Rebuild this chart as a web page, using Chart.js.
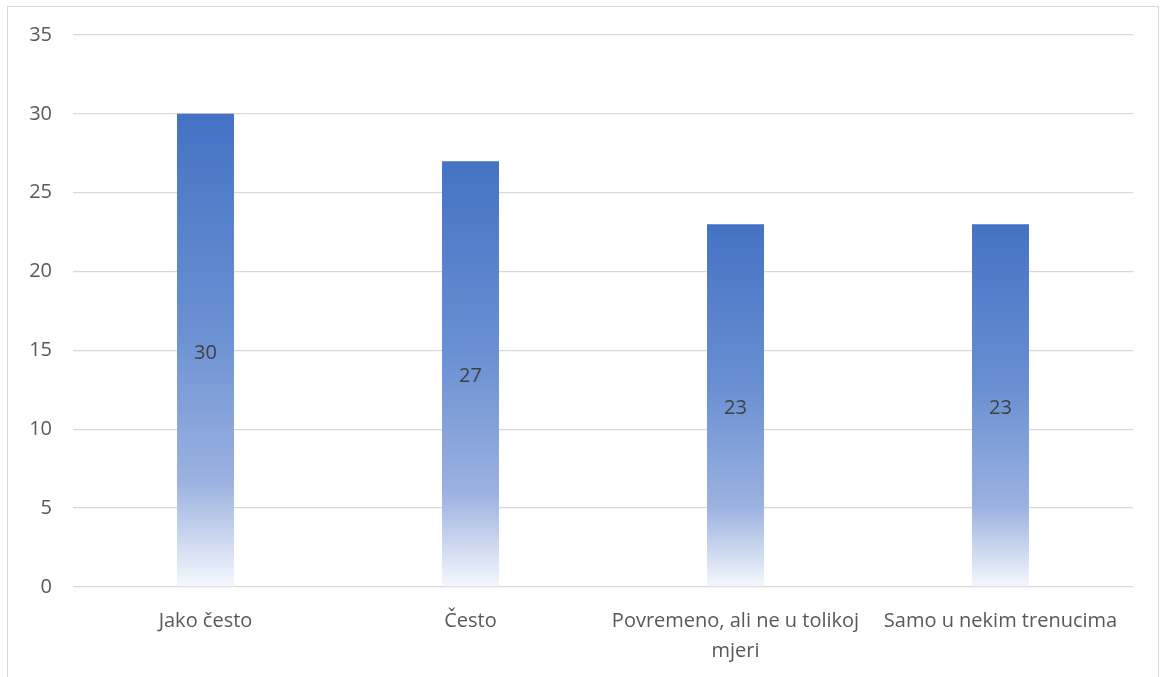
<!DOCTYPE html>
<html>
<head>
<meta charset="utf-8">
<script src="https://cdn.jsdelivr.net/npm/chart.js@4"></script>
<style>
  body { margin: 0; background: #fff; }
  #frame { position: absolute; left: 7px; top: 6px; width: 1150px; height: 680px; border: 1px solid #d9d9d9; }
  #wrap { position: absolute; left: 0; top: 0; width: 1160px; height: 677px; }
</style>
</head>
<body>
<div id="frame"></div>
<div id="wrap"><canvas id="myChart" width="1160" height="677"></canvas></div>
<script>
// Chart data
const categories = ['Jako često', 'Često', ['Povremeno, ali ne u tolikoj', 'mjeri'], 'Samo u nekim trenucima'];
const values = [30, 27, 23, 23];
const yTicks = [0, 5, 10, 15, 20, 25, 30, 35];

// Gradient per bar, dark blue on top fading to white at the base
function barGradient(ctx) {
    const chart = ctx.chart;
    if (!chart.chartArea || ctx.raw === undefined) return '#4472C4';
    const y = chart.scales.y;
    const top = y.getPixelForValue(ctx.raw);
    const bottom = y.getPixelForValue(0);
    const g = chart.ctx.createLinearGradient(0, top, 0, bottom);
    g.addColorStop(0, '#4472C4');
    g.addColorStop(0.45, '#6990D2');
    g.addColorStop(0.78, '#9CB2E0');
    g.addColorStop(1, '#F5F8FD');
    return g;
}

// Value labels in the middle of each bar
const centerLabels = {
    id: 'centerLabels',
    afterDatasetsDraw(chart) {
        const c = chart.ctx;
        const meta = chart.getDatasetMeta(0);
        c.save();
        c.font = '20px "Open Sans"';
        c.fillStyle = '#404040';
        c.textAlign = 'center';
        c.textBaseline = 'middle';
        meta.data.forEach((bar, i) => {
            c.fillText(values[i], bar.x, (bar.y + bar.base) / 2 + 3);
        });
        c.restore();
    }
};

const ctx = document.getElementById('myChart').getContext('2d');
const myChart = new Chart(ctx, {
    type: 'bar',
    data: {
        labels: categories,
        datasets: [{
            data: values,
            backgroundColor: barGradient,
            borderWidth: 0,
            categoryPercentage: 1,
            barPercentage: 0.215
        }]
    },
    options: {
        responsive: false,
        animation: false,
        layout: { padding: { top: 35, right: 27, left: 0, bottom: 0 } },
        plugins: { legend: { display: false }, tooltip: { enabled: false } },
        scales: {
            x: {
                grid: { display: false },
                border: { display: false },
                ticks: {
                    color: '#595959',
                    font: { family: 'Open Sans', size: 20, lineHeight: 1.5 },
                    padding: 11,
                    maxRotation: 0,
                    autoSkip: false
                },
                afterFit(scale) { scale.height = 90; }
            },
            y: {
                min: 0,
                max: 35,
                afterBuildTicks(scale) { scale.ticks = yTicks.map(v => ({ value: v })); },
                grid: { color: '#d9d9d9', lineWidth: 1.3, drawTicks: false },
                border: { display: false },
                ticks: {
                    color: '#595959',
                    font: { family: 'Open Sans', size: 20 },
                    padding: 21
                },
                afterFit(scale) { scale.width = 73; }
            }
        }
    },
    plugins: [centerLabels]
});
</script>
</body>
</html>
